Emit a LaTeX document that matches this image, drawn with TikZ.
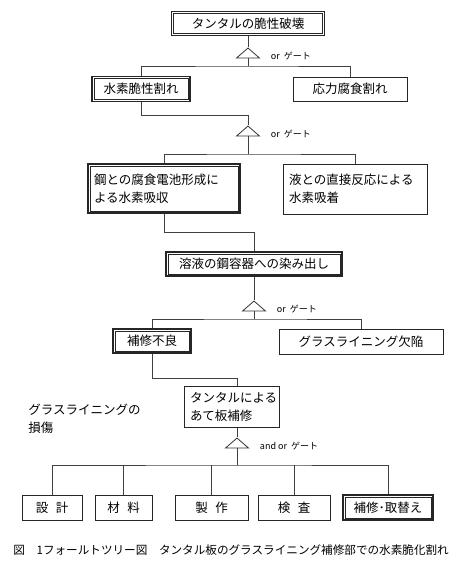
\documentclass[tikz,border=0pt]{standalone}
\usepackage{fontspec}
\setmainfont{Noto Sans CJK JP}
\usetikzlibrary{shapes.geometric, positioning}

\begin{document}
\begin{tikzpicture}[x=1pt,y=-1pt, line width=0.8pt,
    box/.style={draw=black!85,rectangle,inner sep=6pt,minimum height=24pt,
      font=\fontsize{12.5}{18}\selectfont},
    dbox/.style={box,line width=1.6pt},
    inner frame/.style={draw=black!85,line width=0.8pt},
    gate/.style={draw=black!80,isosceles triangle,shape border rotate=90,
      isosceles triangle stretches,minimum width=23pt,minimum height=10pt,
      inner sep=0pt,anchor=apex},
    glabel/.style={right=10pt of #1,yshift=2pt,anchor=west,inner sep=0pt,
      font=\fontsize{9}{9}\selectfont},
    conn/.style={draw=black!75}]
  \useasboundingbox (0,0) rectangle (474,570);

  % top event
  \node[dbox,minimum width=153pt] (top) at (248,23.5) {タンタルの脆性破壊};
  \node[gate] (g1) at (248,47) {};
  \node[glabel=g1.right corner] (g1lab) {or~~ゲート};
  \coordinate (j1) at (248,66);
  \node[dbox,minimum width=98pt,minimum height=25pt] (hyd) at (141,89) {水素脆性割れ};
  \node[box,minimum width=114pt] (scc) at (350,89) {応力腐食割れ};

  \draw[conn] (top.south) -- (g1.apex);
  \draw[conn] (g1.south) -- (j1);
  \draw[conn] (hyd.north) |- (j1) -| (scc.north);

  % hydrogen uptake
  \coordinate (k1) at (248,115);
  \node[gate] (g2) at (248,125) {};
  \node[glabel=g2.right corner] (g2lab) {or~~ゲート};
  \coordinate (j2) at (248,154);
  \node[dbox,text width=140pt,align=left,minimum height=49pt] (cell) at (164,188.5)
    {鋼との腐食電池形成に\\よる水素吸収};
  \node[box,text width=132pt,align=left,minimum height=50pt] (liq) at (355,189)
    {液との直接反応による\\水素吸着};

  \draw[conn] (hyd.south) |- (k1) -- (g2.apex);
  \draw[conn] (g2.south) -- (j2);
  \draw[conn] (cell.north) |- (j2) -| (liq.north);

  % leakage
  \coordinate (k2) at (254,232);
  \node[dbox,minimum width=176pt] (leak) at (254,264) {溶液の鋼容器への染み出し};
  \node[gate] (g3) at (254,300) {};
  \node[glabel=g3.right corner] (g3lab) {or~~ゲート};
  \coordinate (j3) at (254,319);
  \node[dbox,minimum width=78pt] (rep) at (152,341) {補修不良};
  \node[box,minimum width=164pt,minimum height=25pt] (defect) at (361,341.5) {グラスライニング欠陥};

  \draw[conn] (cell.south) |- (k2) -- (leak.north);
  \draw[conn] (leak.south) -- (g3.apex);
  \draw[conn] (g3.south) -- (j3);
  \draw[conn] (rep.north) |- (j3) -| (defect.north);

  % patch repair
  \coordinate (k3) at (237,378);
  \node[box,text width=83pt,align=left,minimum height=40pt] (patch) at (231.5,407)
    {タンタルによる\\あて板補修};
  \node[anchor=west,align=left,inner sep=0pt,font=\fontsize{12.5}{18}\selectfont]
    (damage) at (28,419) {グラスライニングの\\損傷};
  \node[gate] (g4) at (237,437) {};
  \node[glabel=g4.right corner] (g4lab) {and or~~ゲート};
  \coordinate (j4) at (237,465);

  \draw[conn] (rep.south) |- (k3) -- (k3 |- patch.north);
  \draw[conn] (k3 |- patch.south) -- (g4.apex);
  \draw[conn] (g4.south) -- (j4);

  % basic events
  \node[box,minimum width=60pt,minimum height=25pt] (l1) at (52,507.5) {設\hspace{0.6em}計};
  \node[box,minimum width=57pt,minimum height=25pt] (l2) at (123.5,507.5) {材\hspace{0.6em}料};
  \node[box,minimum width=73pt,minimum height=25pt] (l3) at (211.5,507.5) {製\hspace{0.6em}作};
  \node[box,minimum width=72pt,minimum height=25pt] (l4) at (294,507.5) {検\hspace{0.6em}査};
  \node[dbox,minimum width=90pt,minimum height=25pt] (l5) at (388,507.5) {補修･取替え};

  \draw[conn] (l1.north) |- (j4) -| (l5.north);
  \foreach \n in {l2,l3,l4}
    \draw[conn] (\n.north) -- (\n.north |- j4);

  % inner lines of the double frames
  \foreach \n in {top,hyd,cell,leak,rep,l5}
    \draw[inner frame] ([shift={(2.8pt,-2.8pt)}]\n.north west)
      rectangle ([shift={(-2.8pt,2.8pt)}]\n.south east);

  \node[anchor=west,inner sep=0pt,font=\fontsize{11.6}{12}\selectfont] (caption) at (13,550)
    {図　1フォールトツリー図　タンタル板のグラスライニング補修部での水素脆化割れ};
\end{tikzpicture}
\end{document}
